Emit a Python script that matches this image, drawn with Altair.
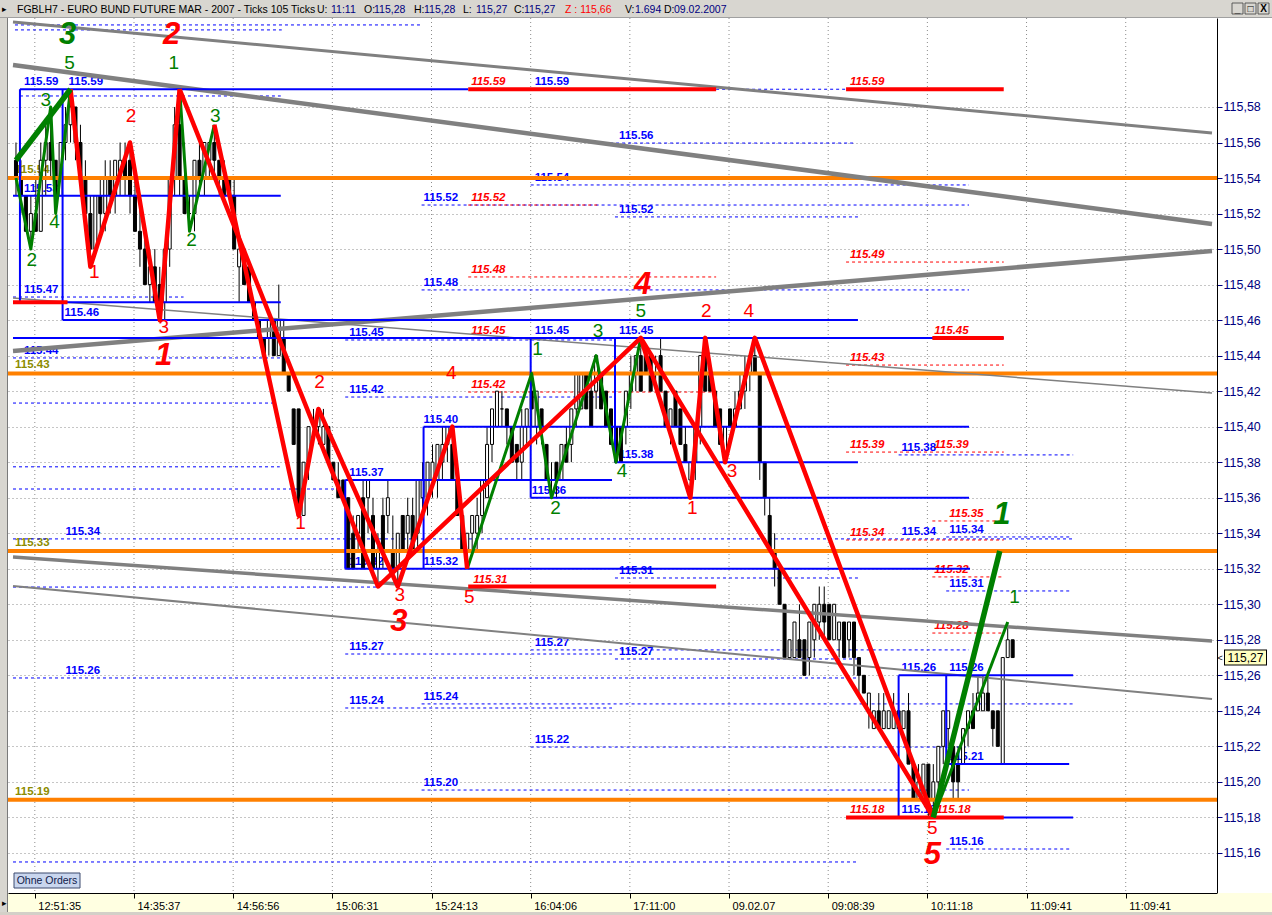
import json
import altair as alt
import pandas as pd

BASE = 115.0  # all levels below are hundredths above 115.00

# ---------------------------------------------------------------- tick bars
OPEN = [55, 54, 53, 51, 52, 51, 55, 56, 55, 53, 56, 57,
        58, 56, 54, 52, 50, 53, 52, 54, 53, 54, 55, 55,
        53, 51, 50, 48, 49, 48, 47, 50, 54, 57, 54, 52,
        52, 55, 54, 55, 56, 55, 54, 54, 53, 49, 50, 49,
        47, 46, 45, 45, 46, 44, 45, 43, 41, 41, 35, 38,
        40, 40, 39, 40, 38, 37, 37, 36, 34, 34, 36, 36,
        35, 32, 35, 35, 33, 32, 35, 34, 35, 34, 36, 36,
        37, 37, 38, 39, 39, 37, 35, 33, 34, 34, 35, 36,
        39, 40, 41, 41, 40, 39, 38, 40, 42, 40, 41, 39,
        37, 38, 37, 39, 39, 41, 41, 43, 42, 42, 43, 42,
        41, 40, 40, 40, 42, 43, 44, 44, 44, 43, 44, 42,
        40, 42, 41, 39, 37, 38, 40, 44, 43, 42, 41, 38,
        41, 40, 41, 42, 43, 44, 43, 38, 35, 33, 32, 30,
        27, 27, 28, 28, 27, 28, 29, 30, 30, 28, 28, 29,
        28, 29, 27, 26, 24, 23, 24, 23, 23, 23, 24, 23,
        24, 21, 19, 19, 21, 19, 20, 22, 23, 22, 21, 21,
        23, 24, 24, 24, 25, 24, 24, 21, 27, 28]
HIGH = [56, 55, 53, 53, 54, 56, 57, 58, 55, 56, 58, 59,
        58, 57, 55, 53, 53, 54, 55, 55, 55, 56, 56, 56,
        54, 53, 51, 50, 50, 49, 50, 54, 58, 59, 56, 53,
        55, 56, 56, 56, 57, 55, 55, 54, 54, 50, 50, 49,
        47, 46, 45, 46, 46, 48, 46, 43, 41, 41, 38, 40,
        41, 41, 41, 40, 38, 38, 37, 36, 35, 35, 37, 37,
        36, 34, 36, 37, 35, 34, 35, 36, 36, 37, 38, 38,
        39, 39, 40, 40, 40, 38, 35, 34, 35, 36, 37, 40,
        41, 42, 42, 41, 40, 39, 41, 41, 43, 42, 41, 39,
        38, 38, 39, 40, 41, 43, 43, 43, 43, 44, 43, 42,
        41, 40, 40, 42, 44, 44, 45, 44, 44, 44, 45, 42,
        41, 42, 41, 40, 38, 40, 44, 45, 43, 42, 41, 40,
        41, 42, 43, 44, 44, 45, 43, 38, 36, 34, 32, 30,
        28, 29, 30, 28, 29, 30, 31, 31, 30, 30, 29, 29,
        29, 29, 27, 26, 25, 24, 25, 25, 24, 25, 25, 24,
        25, 21, 21, 21, 21, 21, 22, 24, 24, 22, 22, 23,
        24, 25, 26, 26, 26, 24, 24, 27, 29, 28]
LOW = [53, 52, 51, 50, 51, 51, 53, 54, 52, 53, 55, 56,
       55, 53, 51, 49, 50, 51, 51, 52, 52, 53, 53, 52,
       51, 49, 48, 47, 47, 46, 46, 49, 53, 53, 52, 51,
       51, 53, 53, 54, 54, 53, 53, 53, 50, 47, 48, 47,
       46, 45, 44, 44, 44, 44, 43, 42, 39, 35, 35, 37,
       39, 39, 39, 38, 37, 36, 36, 32, 32, 33, 32, 34,
       32, 31, 32, 34, 32, 31, 33, 33, 33, 33, 35, 35,
       36, 36, 37, 38, 37, 35, 33, 32, 33, 33, 34, 36,
       38, 40, 40, 39, 38, 37, 37, 39, 40, 39, 39, 37,
       36, 36, 37, 38, 38, 40, 41, 41, 40, 41, 41, 40,
       39, 38, 38, 39, 41, 42, 42, 43, 42, 42, 42, 40,
       39, 40, 39, 38, 36, 37, 39, 42, 42, 40, 39, 38,
       40, 40, 41, 41, 42, 43, 37, 35, 33, 31, 30, 27,
       27, 27, 27, 26, 26, 27, 28, 28, 28, 28, 27, 27,
       27, 26, 25, 25, 23, 23, 23, 23, 23, 23, 23, 23,
       21, 19, 19, 19, 18, 18, 19, 21, 22, 19, 19, 21,
       22, 23, 24, 24, 24, 22, 22, 21, 27, 27]
CLOSE = [54, 53, 51, 52, 51, 55, 56, 55, 53, 56, 57, 58,
         56, 54, 52, 50, 53, 52, 54, 53, 55, 55, 54, 53,
         51, 50, 48, 49, 47, 47, 50, 54, 57, 54, 52, 52,
         55, 54, 56, 56, 55, 54, 53, 53, 50, 50, 48, 47,
         46, 45, 44, 46, 44, 46, 43, 42, 39, 35, 38, 40,
         40, 41, 40, 38, 37, 36, 36, 32, 32, 35, 32, 37,
         32, 33, 33, 36, 32, 34, 33, 35, 33, 37, 37, 38,
         38, 39, 39, 40, 37, 35, 33, 34, 35, 35, 37, 39,
         41, 42, 41, 40, 38, 38, 40, 41, 41, 42, 40, 37,
         37, 37, 39, 38, 41, 43, 43, 41, 40, 44, 41, 40,
         39, 38, 38, 42, 43, 44, 42, 43, 42, 43, 42, 40,
         41, 40, 39, 38, 38, 40, 44, 42, 42, 40, 39, 40,
         40, 41, 42, 43, 44, 43, 38, 36, 33, 32, 30, 27,
         28, 29, 27, 26, 29, 30, 30, 29, 28, 30, 29, 27,
         29, 27, 26, 25, 25, 24, 23, 24, 24, 24, 23, 24,
         21, 19, 20, 21, 19, 20, 22, 24, 24, 20, 20, 23,
         24, 23, 25, 25, 24, 23, 22, 27, 28, 27]

# ---------------------------------------------------------------- axes
TIME_LABELS = ["12:51:35", "14:35:37", "14:56:56", "15:06:31", "15:24:13", "16:04:06",
               "17:11:00", "09.02.07", "09:08:39", "10:11:18", "11:09:41", "11:09:41"]
TIME_TICKS = [3.8, 23.8, 43.8, 63.8, 83.8, 103.8, 123.8, 143.8, 163.8, 183.8, 203.8, 223.8]
PRICE_TICKS = [115.16, 115.18, 115.20, 115.22, 115.24, 115.26, 115.28, 115.30, 115.32, 115.34,
               115.36, 115.38, 115.40, 115.42, 115.44, 115.46, 115.48, 115.50, 115.52, 115.54,
               115.56, 115.58]
X_DOMAIN = [-0.6, 241.2]
Y_DOMAIN = [115.13743, 115.63011]

# ---------------------------------------------------------------- levels
ORANGE_LEVELS = [54, 43, 33, 19]
ORANGE_TAGS = ["115.54", "115.43", "115.33", "115.19"]
# (level, first bar, last bar)
BLUE_LEVELS = [(59, 0.8, 91.2), (53, -0.6, 53.4), (47, -0.6, 53.4), (46, 9.4, 169.8),
               (45, -0.6, 199.2), (40, 82.2, 192.2), (38, 120.8, 169.8), (37, 66.4, 120.2),
               (36, 103.8, 192.2), (32, 66.4, 192.4), (26, 178.0, 213.2), (21, 187.6, 212.4),
               (18, 178.0, 213.2)]
# (bar, lower level, upper level)
BOX_SIDES = [(0.8, 47, 59), (9.4, 46, 59), (66.4, 32, 37), (82.2, 32, 40),
             (103.8, 36, 45), (120.8, 38, 45), (178.0, 18, 26), (187.6, 21, 26)]
RED_LEVELS = [(59, 91.2, 141.2), (59, 167.4, 199.2), (47, -0.6, 10.4), (45, 184.8, 199.2),
              (31, 91.2, 141.2), (18, 167.4, 199.2)]
BLUE_DASHED = [(62.62, -0.2, 82.0), (62.34, -0.2, 53.6), (58.62, 0.8, 53.4), (59.0, 141.2, 167.4),
               (55.97, 117.4, 169.4), (53.61, 103.8, 192.2), (52.48, 81.8, 192.2),
               (51.81, 120.8, 169.8), (47.70, 81.8, 192.2), (47.30, -0.6, 33.8),
               (44.88, 66.4, 120.2), (43.87, -0.6, 53.4), (41.67, 66.4, 120.2),
               (41.33, -0.6, 51.8), (38.41, 178.0, 213.2), (37.74, -0.6, 53.2),
               (36.49, -0.6, 66.8), (33.79, 187.6, 212.4), (33.68, -0.6, 213.2),
               (31.48, 120.8, 169.8), (30.97, -0.6, 73.2), (30.75, 187.6, 212.4),
               (27.43, 103.8, 192.2), (27.20, 66.4, 120.2), (26.92, 120.8, 169.8),
               (25.85, -0.6, 169.8), (24.39, 81.8, 213.2), (24.16, 66.4, 120.2),
               (21.96, 103.8, 192.2), (19.54, 81.8, 192.2), (16.22, 187.6, 212.4),
               (15.49, -0.6, 169.8)]
RED_DASHED = [(52.48, 91.2, 117.8), (49.27, 167.4, 199.2), (48.43, 91.2, 141.2),
              (43.47, 167.4, 199.2), (41.95, 91.2, 141.2), (38.57, 167.4, 199.2),
              (34.69, 184.8, 199.2), (33.62, 167.4, 199.2), (31.54, 184.8, 199.2),
              (28.38, 184.8, 199.2)]

# trend channels: level at the left edge and at the right edge of the plot
TREND_LEFT = [62.79, 60.36, 44.26, 47.25, 32.66, 31.03]
TREND_RIGHT = [56.54, 51.41, 49.89, 41.90, 27.93, 24.67]

# level tags: (text, bar of left edge, level they sit on)
BLUE_TAGS = [("115.59", 1.6, 59), ("115.59", 10.6, 59), ("115.59", 104.6, 59),
             ("115.56", 121.6, 55.97), ("115.54", 104.6, 53.61), ("115.52", 82.2, 52.48),
             ("115.52", 121.6, 51.81), ("115.53", 1.6, 53), ("115.48", 82.2, 47.70),
             ("115.47", 1.6, 47.30), ("115.46", 9.8, 46), ("115.45", 67.2, 44.88),
             ("115.44", 1.6, 43.87), ("115.45", 104.6, 45), ("115.45", 121.6, 45),
             ("115.42", 67.2, 41.67), ("115.40", 82.2, 40), ("115.38", 121.6, 38),
             ("115.38", 178.6, 38.41), ("115.37", 67.2, 37), ("115.36", 104.0, 36),
             ("115.34", 10.0, 33.68), ("115.34", 178.6, 33.68), ("115.34", 188.2, 33.79),
             ("115.32", 67.2, 32), ("115.32", 82.2, 32), ("115.31", 121.6, 31.48),
             ("115.31", 188.2, 30.75), ("115.27", 67.2, 27.20), ("115.27", 104.6, 27.43),
             ("115.27", 121.6, 26.92), ("115.26", 10.0, 25.85), ("115.26", 178.6, 26),
             ("115.26", 188.2, 26), ("115.24", 67.2, 24.16), ("115.24", 82.2, 24.39),
             ("115.22", 104.6, 21.96), ("115.21", 188.2, 21), ("115.20", 82.2, 19.54),
             ("115.18", 178.6, 18), ("115.16", 188.2, 16.22)]
RED_TAGS = [("115.59", 91.8, 59), ("115.59", 168.2, 59), ("115.52", 91.8, 52.48),
            ("115.48", 91.8, 48.43), ("115.49", 168.2, 49.27), ("115.45", 91.8, 45),
            ("115.45", 185.2, 45), ("115.43", 168.2, 43.47), ("115.42", 91.8, 41.95),
            ("115.39", 168.2, 38.57), ("115.39", 185.2, 38.57), ("115.35", 188.2, 34.69),
            ("115.34", 168.2, 33.62), ("115.32", 185.2, 31.54), ("115.31", 92.2, 31),
            ("115.28", 185.2, 28.38), ("115.18", 168.2, 18), ("115.18", 185.6, 18)]

# ---------------------------------------------------------------- Elliott counts
RED_WAVES = [[(11, 59), (15, 49), (23, 56), (29, 46), (33, 59)],
             [(33, 59), (73, 31), (126, 45), (185, 18)],
             [(40, 57), (57, 35), (61, 41), (77, 31), (88, 40), (91, 32)],
             [(126, 45), (136, 36), (139, 45), (143, 38), (149, 45), (185, 18)]]
GREEN_THIN = [[(0, 54), (3, 50), (7, 58), (8, 52), (11, 59)],
              [(33, 59), (35, 51), (40, 57)],
              [(91, 32), (104, 43), (108, 36), (117, 44), (121, 38), (126, 45)],
              [(185, 18), (200, 29)]]
GREEN_THICK = [[(0, 55), (11, 59)],
               [(185, 18), (198.4, 33)]]
# (count, bar, level, wave colour)
SMALL_COUNTS = [("2", 3.2, 49.4, "g"), ("3", 6.0, 58.4, "g"), ("4", 7.8, 51.5, "g"),
                ("5", 10.8, 60.5, "g"), ("1", 15.8, 48.7, "r"), ("2", 23.2, 57.5, "r"),
                ("3", 29.8, 45.6, "r"), ("1", 31.8, 60.5, "g"), ("2", 35.4, 50.5, "g"),
                ("3", 40.2, 57.5, "g"), ("1", 57.4, 34.6, "r"), ("2", 61.2, 42.5, "r"),
                ("3", 77.4, 30.5, "r"), ("4", 87.8, 43.0, "r"), ("5", 91.4, 30.4, "r"),
                ("1", 105.2, 44.4, "g"), ("2", 108.8, 35.4, "g"), ("3", 117.4, 45.4, "g"),
                ("4", 122.2, 37.5, "g"), ("5", 126.0, 46.5, "g"), ("1", 136.4, 35.4, "r"),
                ("2", 139.2, 46.5, "r"), ("3", 144.4, 37.5, "r"), ("4", 147.8, 46.5, "r"),
                ("5", 184.8, 17.4, "r"), ("1", 201.4, 30.4, "g")]
BIG_COUNTS = [("3", 10.4, 62.05, "g"), ("2", 31.4, 62.05, "r"), ("1", 29.8, 44.0, "r"),
              ("3", 77.2, 29.0, "r"), ("4", 126.4, 48.0, "r"), ("5", 184.8, 15.9, "r"),
              ("1", 198.8, 35.0, "g")]

HEADER = [("FGBLH7 - EURO BUND FUTURE  MAR - 2007 - Ticks 105 Ticks", "k"), ("U:", "k"),
          ("11:11", "v"), ("O:", "k"), ("115,28", "v"), ("H:", "k"), ("115,28", "v"),
          ("L:", "k"), ("115,27", "v"), ("C:", "k"), ("115,27", "v"), ("Z : 115,66", "r"),
          ("V:", "k"), ("1.694", "v"), ("D:", "k"), ("09.02.2007", "v")]

# ---------------------------------------------------------------- styling / layout
W, H = 1209, 875
OX, OY = 8, 18                      # plot origin inside the window
HEADER_X = [17, 317, 331, 364, 374, 414, 424, 463, 476, 514, 524, 565, 625, 635, 664, 674]
FONT = "Liberation Sans"
RED, GREEN, BLUE, ORANGE = "#FF0000", "#008000", "#0000FF", "#FF8000"
OLIVE, GREY, NAVY = "#8C8C00", "#808080", "#000080"
HEADER_COLORS = {"k": "#000000", "v": NAVY, "r": RED}
WAVE_COLORS = {"g": GREEN, "r": RED}
TREND_WIDTHS = [3, 4.5, 4.5, 1.5, 3.5, 2]


def price(t):
    return round(BASE + t / 100.0, 5)


XS = alt.Scale(domain=X_DOMAIN, nice=False, zero=False)
YS = alt.Scale(domain=Y_DOMAIN, nice=False, zero=False)

X_AXIS = alt.Axis(values=TIME_TICKS, title=None, zindex=1,
                  labelExpr=f"{json.dumps(TIME_LABELS)}[round((datum.value - 3.8) / 20)]",
                  labelAlign="left", labelBaseline="top", labelOffset=3, labelPadding=2,
                  labelFlush=False, labelOverlap=False, labelFont=FONT, labelFontSize=11,
                  labelColor="black", tickSize=5, tickColor="black", domainColor="black",
                  grid=False)
Y_AXIS = alt.Axis(values=PRICE_TICKS, orient="right", title=None,
                  labelExpr="replace(format(datum.value, '.2f'), '.', ',')",
                  labelFont=FONT, labelFontSize=12.5, labelColor=NAVY, labelPadding=1,
                  labelOverlap=False, labelFlush=False, tickSize=5, tickColor=NAVY,
                  domainColor="black", grid=True, gridDash=[1, 3], gridColor="#8c8c8c")


def X(f="i"):
    return alt.X(f"{f}:Q", scale=XS, axis=X_AXIS)


def Y(f="p"):
    return alt.Y(f"{f}:Q", scale=YS, axis=Y_AXIS)


def px(v, origin):
    return alt.value(v - origin)


one = pd.DataFrame({"k": [0]})

# ---------------------------------------------------------------- frames
bars = pd.DataFrame({"i": range(len(OPEN)),
                     "o": [price(v) for v in OPEN], "h": [price(v) for v in HIGH],
                     "l": [price(v) for v in LOW], "c": [price(v) for v in CLOSE]})
bars["lo"] = bars[["o", "c"]].min(axis=1)
bars["hi"] = bars[["o", "c"]].max(axis=1)


def seg_frame(rows):
    return pd.DataFrame([{"p": price(t), "i": a, "i2": b} for t, a, b in rows])


def tag_frame(rows):
    return pd.DataFrame([{"txt": s, "i": a, "p": price(t)} for s, a, t in rows])


def wave_frame(paths):
    rows = []
    for n, path in enumerate(paths):
        for k, (i, t) in enumerate(path):
            rows.append({"path": n, "k": k, "i": i, "p": price(t)})
    return pd.DataFrame(rows)


def count_frame(rows):
    return pd.DataFrame([{"txt": s, "i": a, "p": price(t), "col": WAVE_COLORS[c]}
                         for s, a, t, c in rows])


trends = pd.DataFrame({"i": [X_DOMAIN[0]] * 6, "i2": [X_DOMAIN[1]] * 6,
                       "p": [price(t) for t in TREND_LEFT], "p2": [price(t) for t in TREND_RIGHT],
                       "w": TREND_WIDTHS})
oranges = pd.DataFrame({"p": [price(t) for t in ORANGE_LEVELS], "txt": ORANGE_TAGS,
                        "i": [-0.2] * 4, "i2": [X_DOMAIN[1]] * 4})
sides = pd.DataFrame([{"i": a, "p": price(lo), "p2": price(hi)} for a, lo, hi in BOX_SIDES])
time_grid = pd.DataFrame({"i": TIME_TICKS})

layers = []

# window chrome
layers.append(alt.Chart(one).mark_rect(color="#D8D6D0").encode(
    x=px(0, OX), x2=px(1272, OX), y=px(0, OY), y2=px(17, OY)))
layers.append(alt.Chart(one).mark_rect(color="#FFFFE1").encode(
    x=px(0, OX), x2=px(1272, OX), y=px(893, OY), y2=px(912, OY)))
layers.append(alt.Chart(one).mark_rect(color="#D4D0C8").encode(
    x=px(0, OX), x2=px(1272, OX), y=px(912, OY), y2=px(915, OY)))
layers.append(alt.Chart(one).mark_rect(color="#D8D6D0").encode(
    x=px(0, OX), x2=px(7, OX), y=px(17, OY), y2=px(912, OY)))
layers.append(alt.Chart(one).mark_rule(color="#7A7A7A").encode(
    x=px(7.5, OX), y=px(17, OY), y2=px(912, OY)))
layers.append(alt.Chart(one).mark_rule(color="#A0A0A0").encode(
    x=px(0, OX), x2=px(1272, OX), y=px(17.5, OY)))

# time grid (dotted verticals under everything)
layers.append(alt.Chart(time_grid).mark_rule(color="#8c8c8c", strokeDash=[1, 3]).encode(
    x=X(), y=alt.value(0), y2=alt.value(H)))

# level tags (under the bars)
layers.append(alt.Chart(tag_frame(BLUE_TAGS)).mark_text(
    align="left", baseline="bottom", dy=-2, font=FONT, fontSize=11.5, fontWeight="bold",
    color=BLUE).encode(x=X(), y=Y(), text="txt:N"))
layers.append(alt.Chart(tag_frame(RED_TAGS)).mark_text(
    align="left", baseline="bottom", dy=-2, font=FONT, fontSize=11.5, fontWeight="bold",
    fontStyle="italic", color=RED).encode(x=X(), y=Y(), text="txt:N"))
layers.append(alt.Chart(oranges).mark_text(
    align="left", baseline="bottom", dy=-3, font=FONT, fontSize=11.5, fontWeight="bold",
    color=OLIVE).encode(x=X(), y=Y(), text="txt:N"))

# dashed levels
layers.append(alt.Chart(seg_frame(BLUE_DASHED)).mark_rule(
    color=BLUE, strokeWidth=1, strokeDash=[3, 3]).encode(x=X(), x2="i2:Q", y=Y()))
layers.append(alt.Chart(seg_frame(RED_DASHED)).mark_rule(
    color=RED, strokeWidth=1, strokeDash=[3, 3]).encode(x=X(), x2="i2:Q", y=Y()))

# tick bars
layers.append(alt.Chart(bars).mark_rule(color="black", strokeWidth=1).encode(
    x=X(), y=Y("l"), y2="h:Q"))
layers.append(alt.Chart(bars).mark_bar(size=3, stroke="black", strokeWidth=1).encode(
    x=X(), y=Y("lo"), y2="hi:Q",
    fill=alt.condition("datum.c > datum.o", alt.value("white"), alt.value("black"))))

# support / resistance
layers.append(alt.Chart(oranges).mark_rule(color=ORANGE, strokeWidth=4).encode(
    x=alt.value(0), x2=alt.value(W), y=Y()))
layers.append(alt.Chart(trends).mark_rule(color=GREY, clip=True).encode(
    x=X(), x2="i2:Q", y=Y(), y2="p2:Q", strokeWidth=alt.StrokeWidth("w:Q", scale=None)))
layers.append(alt.Chart(seg_frame(BLUE_LEVELS)).mark_rule(color=BLUE, strokeWidth=2).encode(
    x=X(), x2="i2:Q", y=Y()))
layers.append(alt.Chart(sides).mark_rule(color=BLUE, strokeWidth=2).encode(
    x=X(), y=Y(), y2="p2:Q"))
layers.append(alt.Chart(seg_frame(RED_LEVELS)).mark_rule(color=RED, strokeWidth=4).encode(
    x=X(), x2="i2:Q", y=Y()))

# wave lines
layers.append(alt.Chart(wave_frame(GREEN_THIN)).mark_line(
    color=GREEN, strokeWidth=3, strokeJoin="round", clip=True).encode(
    x=X(), y=Y(), detail="path:N", order="k:Q"))
layers.append(alt.Chart(wave_frame(RED_WAVES)).mark_line(
    color=RED, strokeWidth=4.5, strokeJoin="round", clip=True).encode(
    x=X(), y=Y(), detail="path:N", order="k:Q"))
layers.append(alt.Chart(wave_frame(GREEN_THICK)).mark_line(
    color=GREEN, strokeWidth=5.5, strokeJoin="round", clip=True).encode(
    x=X(), y=Y(), detail="path:N", order="k:Q"))

# wave counts
layers.append(alt.Chart(count_frame(SMALL_COUNTS)).mark_text(
    font=FONT, fontSize=19, baseline="middle", align="center").encode(
    x=X(), y=Y(), text="txt:N", color=alt.Color("col:N", scale=None)))
layers.append(alt.Chart(count_frame(BIG_COUNTS)).mark_text(
    font=FONT, fontSize=31, fontWeight="bold", fontStyle="italic", baseline="middle",
    align="center").encode(x=X(), y=Y(), text="txt:N", color=alt.Color("col:N", scale=None)))

# last price marker
last = bars.tail(1).copy()
last["lbl"] = last["c"].map(lambda v: f"{v:.2f}".replace(".", ","))
layers.append(alt.Chart(last).mark_rule(color="black", strokeWidth=16).encode(
    x=px(1224, OX), x2=px(1267, OX), y=Y("c")))
layers.append(alt.Chart(last).mark_rule(color="#FFFFC0", strokeWidth=14).encode(
    x=px(1225, OX), x2=px(1266, OX), y=Y("c")))
layers.append(alt.Chart(last).mark_text(font=FONT, fontSize=12, color="black",
                                        align="center", baseline="middle").encode(
    x=px(1245.5, OX), y=Y("c"), text="lbl:N"))
layers.append(alt.Chart(last).mark_text(font=FONT, fontSize=9, color="black",
                                        align="center", baseline="middle").encode(
    x=px(1220, OX), y=Y("c"), text=alt.value("<")))

# header caption
for (txt, col), hx in zip(HEADER, HEADER_X):
    layers.append(alt.Chart(one).mark_text(
        font=FONT, fontSize=10.5, align="left", baseline="alphabetic",
        color=HEADER_COLORS[col]).encode(x=px(hx, OX), y=px(13, OY), text=alt.value(txt)))
layers.append(alt.Chart(one).mark_text(font=FONT, fontSize=9, color="black").encode(
    x=px(4, OX), y=px(9, OY), text=alt.value("▸")))
layers.append(alt.Chart(one).mark_text(font=FONT, fontSize=9, color="black").encode(
    x=px(4, OX), y=px(903, OY), text=alt.value("▸")))
for bx, glyph in zip([1232, 1245, 1258], ["_", "□", "X"]):
    layers.append(alt.Chart(one).mark_rect(fill="#D8D6D0", stroke="#404040",
                                           strokeWidth=0.8).encode(
        x=px(bx, OX), x2=px(bx + 11, OX), y=px(3, OY), y2=px(14, OY)))
    layers.append(alt.Chart(one).mark_text(font=FONT, fontSize=10, fontWeight="bold",
                                           color="black", baseline="middle").encode(
        x=px(bx + 5.5, OX), y=px(8.5, OY), text=alt.value(glyph)))

# order button
layers.append(alt.Chart(one).mark_rect(fill="#C9D6EE", stroke="#3C4A6E", strokeWidth=1).encode(
    x=px(14, OX), x2=px(80, OX), y=px(873, OY), y2=px(888, OY)))
layers.append(alt.Chart(one).mark_text(font=FONT, fontSize=10.5, color="#10204A",
                                       baseline="middle").encode(
    x=px(47, OX), y=px(880.5, OY), text=alt.value("Ohne Orders")))

chart = alt.layer(*layers).properties(
    width=W, height=H, background="white",
    padding={"left": OX, "top": OY, "right": 1272 - OX - W, "bottom": 915 - OY - H},
    autosize=alt.AutoSizeParams(type="none"),
).configure_view(stroke=None)

chart.save("out.html", embed_options={"renderer": "svg", "actions": False})
